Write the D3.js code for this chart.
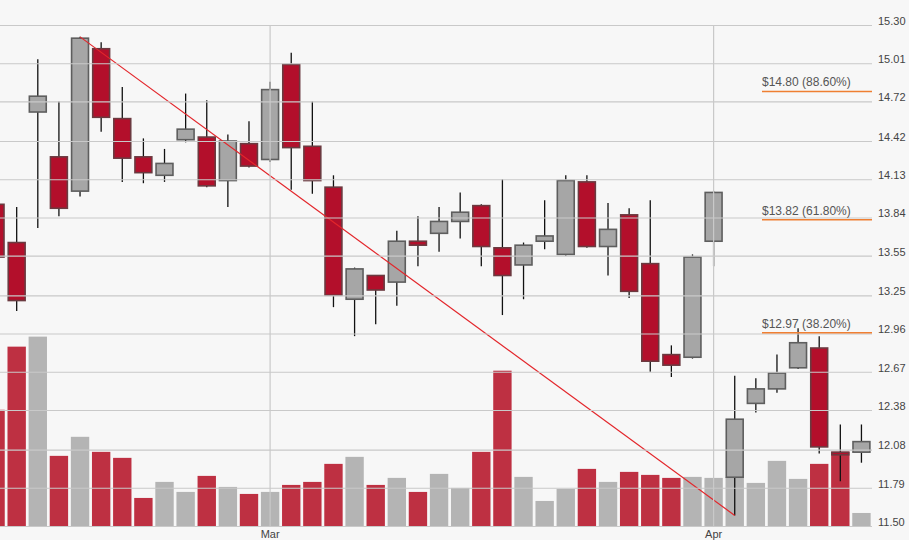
<!DOCTYPE html>
<html><head><meta charset="utf-8">
<script src="https://cdn.jsdelivr.net/npm/d3@7"></script>
<style>
body{margin:0;background:#f7f7f7;}
svg{display:block;font-family:"Liberation Sans",Arial,sans-serif;}
</style>
</head><body>
<svg id="chart" width="909" height="540"></svg>
<script>
// ---- data ----
const dates = [
  "2018-02-09","2018-02-12","2018-02-13","2018-02-14","2018-02-15","2018-02-16","2018-02-20","2018-02-21","2018-02-22","2018-02-23",
  "2018-02-26","2018-02-27","2018-02-28","2018-03-01","2018-03-02","2018-03-05","2018-03-06","2018-03-07","2018-03-08","2018-03-09",
  "2018-03-12","2018-03-13","2018-03-14","2018-03-15","2018-03-16","2018-03-19","2018-03-20","2018-03-21","2018-03-22","2018-03-23",
  "2018-03-26","2018-03-27","2018-03-28","2018-03-29","2018-04-02","2018-04-03","2018-04-04","2018-04-05","2018-04-06","2018-04-09",
  "2018-04-10","2018-04-11"
];
const opens  = [13.94,13.65,14.64,14.30,14.04,15.12,14.59,14.30,14.16,14.43,14.45,14.12,14.40,14.28,15.00,14.38,14.07,13.22,13.40,13.35,13.66,13.72,13.81,13.93,13.61,13.48,13.66,13.56,14.11,13.62,13.86,13.49,12.80,12.78,13.66,11.87,12.43,12.54,12.70,12.85,12.06,12.06];
const highs  = [14.00,13.92,15.04,14.72,15.21,15.17,14.83,14.44,14.36,14.78,14.73,14.47,14.57,14.87,15.09,14.72,14.16,13.46,13.40,13.74,13.85,13.92,14.03,13.94,14.13,13.65,13.97,14.16,14.16,13.95,13.91,13.97,12.87,13.56,14.04,12.64,12.62,12.80,13.00,12.94,12.27,12.27];
const lows   = [13.45,13.13,13.76,13.85,14.00,14.49,14.11,14.10,14.11,14.41,14.07,13.92,14.22,14.26,14.05,14.02,13.16,12.94,13.03,13.17,13.47,13.58,13.68,13.47,13.10,13.22,13.60,13.55,13.61,13.40,13.23,12.67,12.63,12.77,13.47,11.58,12.36,12.51,12.69,12.05,11.84,11.98];
const closes = [13.54,13.21,14.76,13.91,15.20,14.60,14.29,14.18,14.25,14.51,14.08,14.42,14.23,14.81,14.37,14.12,13.25,13.45,13.29,13.66,13.63,13.81,13.88,13.62,13.40,13.63,13.70,14.12,13.62,13.75,13.28,12.75,12.72,13.54,14.03,12.31,12.54,12.66,12.89,12.10,12.04,12.14];
const volumes = [11.6,17.9,18.9,7.0,8.9,7.4,6.8,2.8,4.4,3.4,5.0,3.9,3.2,3.4,4.1,4.4,6.2,6.9,4.1,4.8,3.4,5.2,3.8,7.4,15.5,4.9,2.5,3.7,5.7,4.4,5.4,5.1,4.8,4.9,4.8,4.9,4.3,6.5,4.7,6.2,7.4,1.3];
const yTickValues = [11.50,11.79,12.08,12.38,12.67,12.96,13.25,13.55,13.84,14.13,14.42,14.72,15.01,15.30];
const monthTicks = ["2018-03-01","2018-04-02"];
const monthLabels = ["Mar","Apr"];
const trendFrom = "2018-02-15";   // swing high
const trendTo = "2018-04-03";     // swing low
const fibRatios = [0.382, 0.618, 0.886];

// ---- layout ----
const W = 909, H = 540;
const plotLeft = -15, plotRight = 872, plotTop = 25, plotBottom = 526;
const svg = d3.select("#chart");
svg.append("rect").attr("width", W).attr("height", H).attr("fill", "#f7f7f7");

const x = d3.scaleBand().domain(dates).range([plotLeft, plotRight]).padding(0);
const bw = x.bandwidth();
const cx = d => x(d) + bw / 2;
const y = d3.scaleLinear().domain([11.5, 15.3]).range([plotBottom, plotTop]);
const yv = d3.scaleLinear().domain([0, 50]).range([plotBottom, plotTop]);

const data = dates.map((d, i) => ({date: d, o: opens[i], h: highs[i], l: lows[i], c: closes[i], v: volumes[i], up: closes[i] >= opens[i]}));

const clip = svg.append("clipPath").attr("id", "clip").append("rect")
  .attr("x", 0).attr("y", 0).attr("width", plotRight).attr("height", H);
const plot = svg.append("g").attr("clip-path", "url(#clip)");

// horizontal grid
const yAxis = d3.axisRight(y).tickValues(yTickValues).tickSize(plotRight).tickFormat(d3.format(".2f"));
const gy = svg.append("g").call(yAxis);
gy.select(".domain").remove();
gy.selectAll(".tick line").attr("stroke", "#c9c9c9").attr("stroke-width", 1.2);
gy.selectAll(".tick text").attr("x", plotRight + 6).attr("dy", "-0.05em")
  .attr("fill", "#444").style("font-size", "11px").style("font-family", '"Liberation Sans",Arial,sans-serif');

// vertical month grid + labels
const xAxis = d3.axisBottom(x).tickValues(monthTicks)
  .tickFormat((d, i) => monthLabels[i]).tickSize(-(plotBottom - plotTop)).tickPadding(6);
const gx = svg.append("g").attr("transform", `translate(0,${plotBottom})`).call(xAxis);
gx.select(".domain").remove();
gx.selectAll(".tick line").attr("stroke", "#c9c9c9").attr("stroke-width", 1.2);
gx.selectAll(".tick text").attr("fill", "#444").style("font-size", "11px")
  .style("font-family", '"Liberation Sans",Arial,sans-serif').attr("y", 4);

// volume bars
const vw = bw * 0.87;
plot.append("g").selectAll("rect").data(data).join("rect")
  .attr("x", d => cx(d.date) - vw / 2)
  .attr("width", vw)
  .attr("y", d => yv(d.v))
  .attr("height", d => plotBottom - yv(d.v))
  .attr("fill", d => d.up ? "#b0b0b0" : "#bb2538")
  .attr("opacity", 0.95);

// candles
const cw = bw * 0.8;
const cg = plot.append("g").selectAll("g").data(data).join("g");
cg.append("line")
  .attr("x1", d => cx(d.date)).attr("x2", d => cx(d.date))
  .attr("y1", d => y(d.h)).attr("y2", d => y(d.l))
  .attr("stroke", "#111").attr("stroke-width", 1.3);
cg.append("rect")
  .attr("x", d => cx(d.date) - cw / 2)
  .attr("width", cw)
  .attr("y", d => y(Math.max(d.o, d.c)))
  .attr("height", d => Math.max(1, Math.abs(y(d.o) - y(d.c))))
  .attr("fill", d => d.up ? "#a6a6a6" : "#b30f2b")
  .attr("stroke", d => d.up ? "#5e5e5e" : "#6b3a40")
  .attr("stroke-width", 1.6);

// trend line
const hi = data.find(d => d.date === trendFrom).h;
const lo = data.find(d => d.date === trendTo).l;
plot.append("line")
  .attr("x1", cx(trendFrom)).attr("y1", y(hi))
  .attr("x2", cx(trendTo)).attr("y2", y(lo))
  .attr("stroke", "#e3262b").attr("stroke-width", 1.2);

// fibonacci levels
const fibStart = plotRight - 110;
const fg = svg.append("g").selectAll("g").data(fibRatios).join("g");
fg.append("line")
  .attr("x1", fibStart).attr("x2", plotRight)
  .attr("y1", r => y(lo + r * (hi - lo))).attr("y2", r => y(lo + r * (hi - lo)))
  .attr("stroke", "#ef7f32").attr("stroke-width", 1.5);
fg.append("text")
  .attr("x", fibStart).attr("y", r => y(lo + r * (hi - lo)) - 5)
  .attr("fill", "#555").style("font-size", "12px")
  .text(r => `$${(lo + r * (hi - lo)).toFixed(2)} (${(r * 100).toFixed(2)}%)`);
</script>
</body></html>
